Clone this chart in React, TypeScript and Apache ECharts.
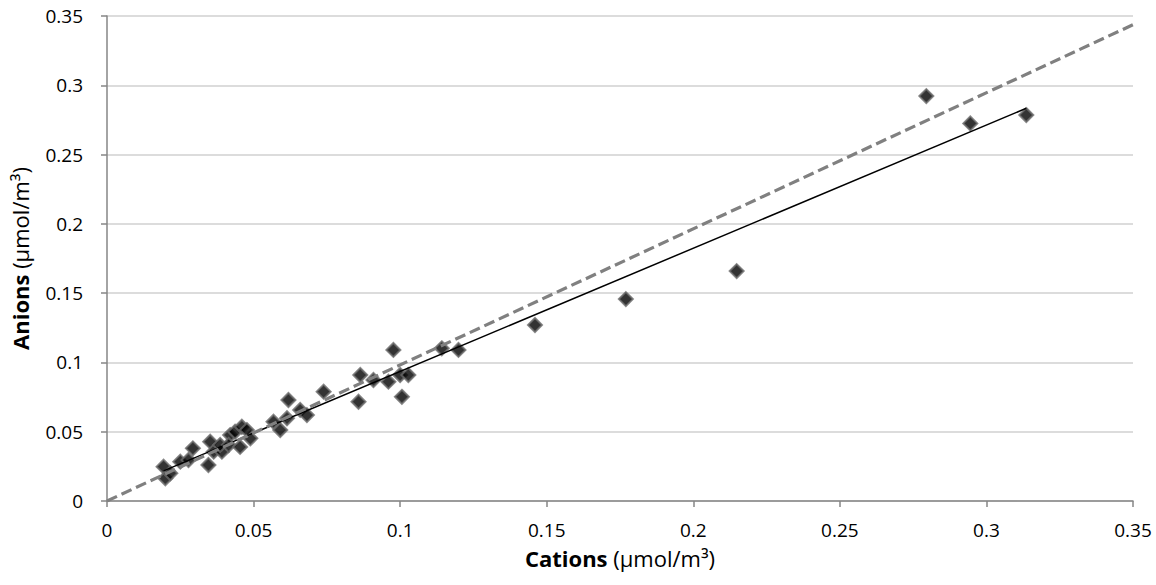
import React, { useEffect, useRef } from "react";
import * as echarts from "echarts";

// Measured data (Cations vs Anions, µmol/m³)
const cations = [0.0193, 0.0199, 0.0216, 0.025, 0.0278, 0.0293, 0.0352, 0.0346, 0.0364, 0.0392, 0.0386, 0.042, 0.0415, 0.0437, 0.046, 0.0454, 0.0489, 0.0477, 0.0568, 0.0591, 0.0614, 0.0619, 0.0659, 0.0682, 0.0739, 0.0858, 0.0864, 0.0909, 0.096, 0.0977, 0.1, 0.1006, 0.1028, 0.1142, 0.1199, 0.146, 0.177, 0.2148, 0.2795, 0.2945, 0.3136];
const anions = [0.0248, 0.0164, 0.02, 0.0284, 0.0296, 0.038, 0.0428, 0.026, 0.0356, 0.0356, 0.0404, 0.0476, 0.0404, 0.05, 0.0536, 0.039, 0.0452, 0.0512, 0.0572, 0.0512, 0.0597, 0.0729, 0.0657, 0.062, 0.0789, 0.0716, 0.0909, 0.0873, 0.0861, 0.109, 0.0909, 0.0752, 0.0909, 0.1102, 0.109, 0.127, 0.1457, 0.1659, 0.2922, 0.2725, 0.2785];

// Linear fit (solid) and fit through origin (dashed)
const fitSlope = 0.889;
const fitIntercept = 0.0046;
const originSlope = 0.982;
const originFitRange = [0, 0.35];

const axisTicks = [0, 0.05, 0.1, 0.15, 0.2, 0.25, 0.3, 0.35];

const FONT = "'Open Sans', sans-serif";

export default function App() {
  const ref = useRef<HTMLDivElement>(null);
  useEffect(() => {
    if (!ref.current) return;
    const chart = echarts.init(ref.current, undefined, { renderer: "svg" });
    const points = cations.map((c, i) => [c, anions[i]]);
    const xMin = Math.min(...cations);
    const xMax = Math.max(...cations);
    const fitLine = [
      [xMin, fitSlope * xMin + fitIntercept],
      [xMax, fitSlope * xMax + fitIntercept],
    ];
    const originLine = originFitRange.map((x) => [x, originSlope * x]);
    const fmt = (v: number) => String(+v.toFixed(2));
    const labelStyle = { color: "#000", fontFamily: FONT, fontSize: 19, lineHeight: 19 };
    const rich = {
      b: { fontFamily: FONT, fontSize: 22, lineHeight: 24, fontWeight: "bold" as const, color: "#000" },
      r: { fontFamily: FONT, fontSize: 22, lineHeight: 24, color: "#000" },
    };
    chart.setOption({
      animation: false,
      backgroundColor: "#fff",
      grid: { left: 107, right: 23, top: 16, bottom: 84, containLabel: false },
      xAxis: {
        type: "value",
        min: axisTicks[0],
        max: axisTicks[axisTicks.length - 1],
        interval: 0.05,
        name: "{b|Cations}{r| (µmol/m³)}",
        nameLocation: "middle",
        nameGap: 45,
        nameTextStyle: { rich },
        axisLine: { show: true, lineStyle: { color: "#868686", width: 1.5 } },
        axisTick: { show: true, inside: false, length: 6, lineStyle: { color: "#868686", width: 1.5 } },
        axisLabel: { ...labelStyle, margin: 19, formatter: fmt },
        splitLine: { show: false },
      },
      yAxis: {
        type: "value",
        min: axisTicks[0],
        max: axisTicks[axisTicks.length - 1],
        interval: 0.05,
        name: "{b|Anions}{r| (µmol/m³)}",
        nameLocation: "middle",
        nameGap: 75,
        nameRotate: 90,
        nameTextStyle: { rich },
        axisLine: { show: true, lineStyle: { color: "#868686", width: 1.5 } },
        axisTick: { show: true, inside: false, length: 6, lineStyle: { color: "#868686", width: 1.5 } },
        axisLabel: { ...labelStyle, margin: 24, formatter: fmt },
        splitLine: { show: true, lineStyle: { color: "#d0d0d0", width: 1.5 } },
      },
      series: [
        {
          type: "scatter",
          data: points,
          symbol: "diamond",
          symbolSize: 14,
          itemStyle: { color: "#000", borderColor: "#6a6a6a", borderWidth: 2 },
          z: 2,
        },
        {
          type: "line",
          data: fitLine,
          showSymbol: false,
          symbol: "none",
          lineStyle: { color: "#000", width: 1.5 },
          z: 3,
        },
        {
          type: "line",
          data: originLine,
          showSymbol: false,
          symbol: "none",
          lineStyle: { color: "#808080", width: 3.2, type: [11, 5] },
          z: 4,
        },
      ],
    });
    return () => chart.dispose();
  }, []);
  return (
    <div
      ref={ref}
      style={{ position: "fixed", left: 0, top: 0, width: 1156, height: 585 }}
    />
  );
}
